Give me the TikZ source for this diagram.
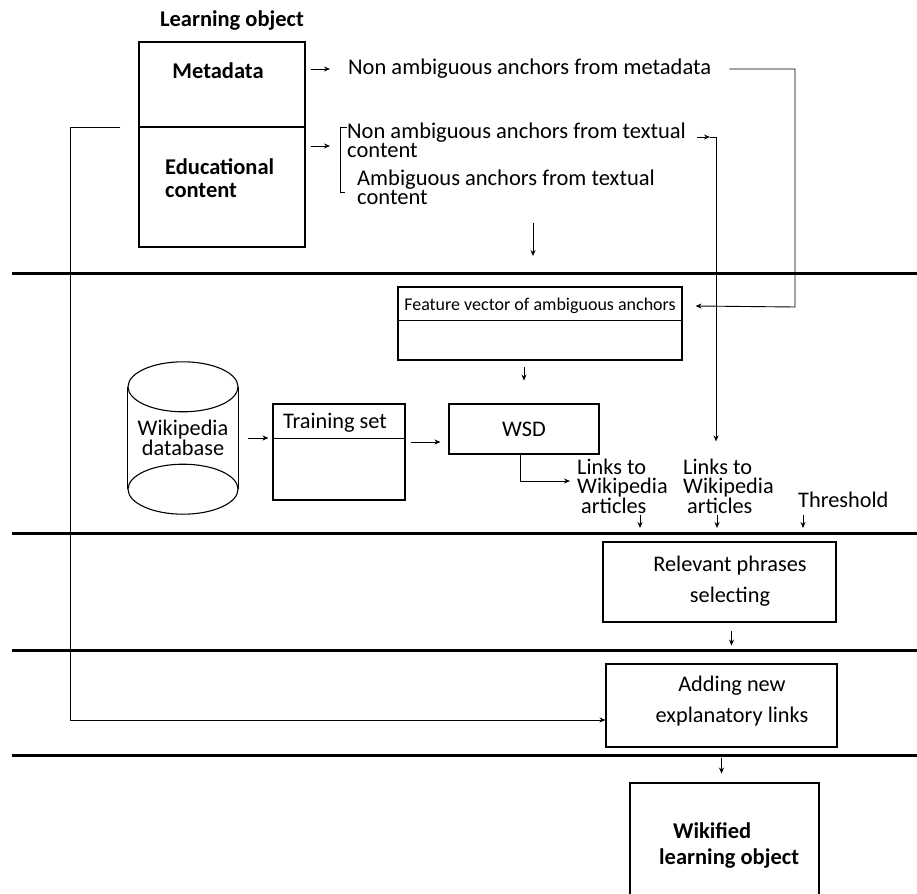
\documentclass[tikz,border=0pt]{standalone}
\usepackage{fontspec}
\setmainfont{Carlito}
\usetikzlibrary{arrows.meta,positioning}

\begin{document}
\begin{tikzpicture}[x=1pt,y=-1pt,
  box/.style={draw,line width=1.1pt,inner sep=0pt},
  band/.style={line width=3pt},
  link/.style={line width=0.9pt,-{Stealth[length=6pt,width=5pt]}},
  big/.style={inner sep=0pt,font=\fontsize{22.5}{19}\selectfont},
  mid/.style={inner sep=0pt,font=\fontsize{22.3}{19}\selectfont},
  small/.style={inner sep=0pt,font=\fontsize{18}{18}\selectfont}]
\useasboundingbox (0,0) rectangle (917,893);
\draw[band] (12,273) -- (917,273);
\draw[band] (12,533) -- (917,533);
\draw[band] (12,650) -- (917,650);
\draw[band] (12,755) -- (917,755);
\node[big,font=\fontsize{22.5}{18}\selectfont\bfseries] (lotitle) at (232,21) {Learning object};
\node[box,minimum width=166pt,minimum height=85pt] (meta) at (222,84.5) {};
\node[box,minimum width=166pt,minimum height=120pt] (edu) at (222,187) {};
\node[big,font=\fontsize{22.5}{18}\selectfont\bfseries] (metatxt) at (218,71) {Metadata};
\node[big,font=\fontsize{22.5}{23}\selectfont\bfseries,anchor=west,align=left] (edutxt) at (165,178.5) {Educational\\content};
\node[big,anchor=west] (nam) at (348,69) {Non ambiguous anchors from metadata};
\node[big,anchor=west,align=left] (nat) at (347,140.5) {Non ambiguous anchors from textual\\content};
\node[big,anchor=west,align=left] (amb) at (357,187) {Ambiguous anchors from textual\\content};
\draw[line width=0.8pt] (347,127) -| (340,192) -- (345,192);
\node[box,minimum width=284pt,minimum height=73pt] (feat) at (540,323.5) {};
\draw[line width=1.1pt] ([yshift=-34pt]feat.north west) -- ([yshift=-34pt]feat.north east);
\node[small] (feattxt) at (540,306) {Feature vector of ambiguous anchors};
\node[mid,font=\fontsize{22.3}{20}\selectfont,align=center,minimum width=110pt,minimum height=106pt] (wikidb) at (183,438) {Wikipedia\\database};
\draw[line width=1.1pt] ([yshift=-2pt]wikidb.north west) -- ([yshift=2pt]wikidb.south west) ([yshift=-2pt]wikidb.north east) -- ([yshift=2pt]wikidb.south east);
\draw[line width=1.1pt] ([yshift=-2pt]wikidb.north) ellipse [x radius=55pt,y radius=25pt];
\draw[line width=1.1pt] ([yshift=2pt]wikidb.south) ellipse [x radius=55pt,y radius=25pt];
\node[box,minimum width=132pt,minimum height=96pt] (train) at (339,452) {};
\draw[line width=1.1pt] ([yshift=-35pt]train.north west) -- ([yshift=-35pt]train.north east);
\node[mid] (traintxt) at (335,423) {Training set};
\node[box,mid,minimum width=150pt,minimum height=50pt] (wsd) at (524,429) {WSD};
\node[mid,anchor=west,align=left] (links1) at (577,486) {Links to\\Wikipedia\\\hspace{4pt}articles};
\node[mid,anchor=west,align=left] (links2) at (683,486) {Links to\\Wikipedia\\\hspace{4pt}articles};
\node[mid,anchor=west] (thr) at (798,500) {Threshold};
\node[box,minimum width=233pt,minimum height=80pt] (rel) at (719.5,582) {};
\node[mid,font=\fontsize{22.3}{31}\selectfont,align=center] (reltxt) at (730,581.5) {Relevant phrases\\selecting};
\node[box,minimum width=231pt,minimum height=83pt] (add) at (721.5,705.5) {};
\node[mid,font=\fontsize{22.3}{31}\selectfont,align=center] (addtxt) at (732,701.5) {Adding new\\explanatory links};
\node[box,minimum width=189pt,minimum height=130pt] (wiki) at (724.5,848) {};
\node[big,font=\fontsize{22.5}{26}\selectfont\bfseries,anchor=west,align=left] (wikitxt) at (659,845) {\hspace{14pt}Wikified\\learning object};
\coordinate (brk) at (340,146);
\coordinate (mright) at (795,307);
\coordinate (tcorner) at (716,137);
\coordinate (lstart) at (120,127);
\coordinate (lcorner) at (70,720);
\draw[link] ([xshift=5pt]meta.east |- nam.west) -- ([xshift=-18pt]nam.west);
\draw[link] ([xshift=5pt]edu.east |- brk) -- ([xshift=-10pt]brk);
\draw[link] ([xshift=18pt]nam.east) -| (mright) -- ([xshift=13pt]feat.east |- feattxt);
\draw[link] ([xshift=-19pt]tcorner) -- ([xshift=-6pt]tcorner);
\draw[link] ([xshift=-6pt]tcorner) -- (tcorner) -- ([yshift=17pt]links2.north -| tcorner);
\draw[link] (533,223) -- (533,256);
\draw[link] ([yshift=-6pt]wsd.north |- feat.south) -- ++(0,14);
\draw[link] ([xshift=10pt]wikidb.east) -- ([xshift=-4pt]train.west |- wikidb.east);
\draw[link] ([xshift=5pt,yshift=-13pt]train.east |- wsd.west) -- ([xshift=-8pt,yshift=-13pt]wsd.west);
\draw[link] ([xshift=-4pt]wsd.south) |- ([xshift=-7pt,yshift=5pt]links1.west);
\draw[link] (640,515) -- (640,528);
\draw[link] (717,515) -- (717,528);
\draw[link] (803,515) -- (803,528);
\draw[link] ([xshift=12pt,yshift=-8pt]rel.south) -- ++(0,15);
\draw[link] (lstart) -| (lcorner) -- (add.west |- lcorner);
\draw[link] ([yshift=-10pt]add.south) -- ++(0,16);
\end{tikzpicture}
\end{document}
